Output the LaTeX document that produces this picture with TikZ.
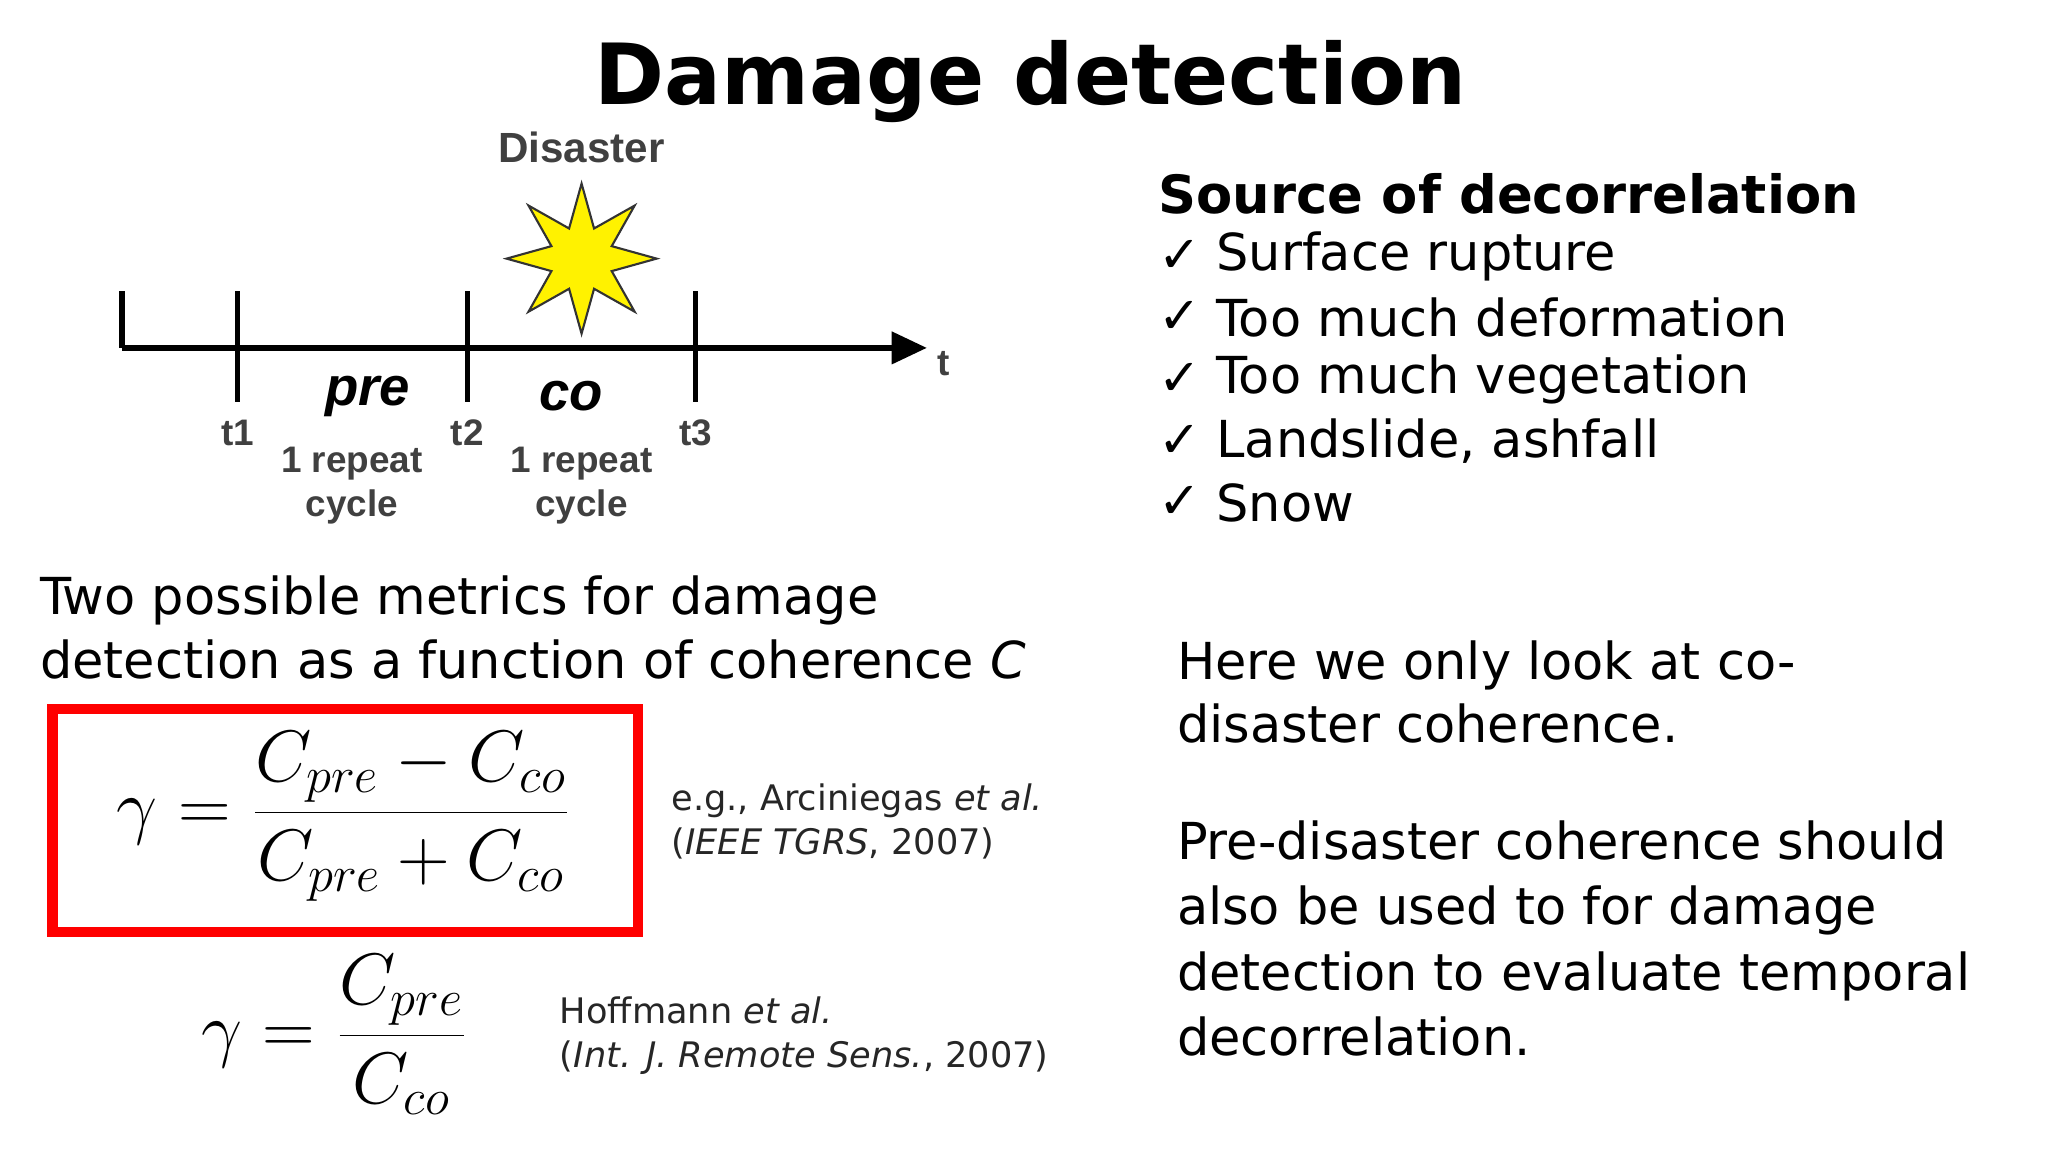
\documentclass[tikz,border=0pt]{standalone}
\usepackage{fontspec}
\setmainfont{DejaVu Sans}
\newfontfamily\arialf{Liberation Sans}
\usetikzlibrary{arrows.meta,shapes.geometric}
\tikzset{
  tick/.style={line width=1.5pt},
  tl/.style={font=\arialf\fontsize{10.5}{12.5}\selectfont\bfseries, text=black!75},
  body/.style={anchor=west, font=\fontsize{14.5}{18}\selectfont, inner sep=0pt},
  cite/.style={anchor=west, font=\fontsize{10}{12.5}\selectfont, inner sep=0pt, text=black!85},
}
\begin{document}
\begin{tikzpicture}[x=0.01313cm,y=-0.01313cm]
\useasboundingbox (0,0) rectangle (1560,877);
\node[font=\fontsize{24}{30}\selectfont\bfseries] (title) at (785,62) {Damage detection};
% timeline
\coordinate (L) at (93,265); \coordinate (R) at (706,265);
\draw[tick,-{Triangle[length=10pt,width=9pt]}] (L) -- (R);
\draw[tick] (93,222) -- (L);
\foreach \x/\n in {181/1,356/2,530/3}{
  \draw[tick] (\x,222) -- (\x,306);
  \node[tl] (t\n) at (\x,330) {t\n};
}
\node[tl] (tt) at (719,277) {t};
\node[font=\arialf\fontsize{15.5}{18}\selectfont\bfseries\itshape] (pre) at (280,302) {pre};
\node[font=\arialf\fontsize{15.5}{18}\selectfont\bfseries\itshape] (co) at (435,302) {co};
\node[tl,align=center] (c1) at (268,370) {1 repeat\\cycle};
\node[tl,align=center] (c2) at (443,370) {1 repeat\\cycle};
\node[tl,font=\arialf\fontsize{12}{14}\selectfont\bfseries] (dis) at (443,112) {Disaster};
\node[star,star points=8,star point ratio=2.3,draw=black!80,line width=0.6pt,fill=yellow,minimum size=1.5cm,inner sep=0pt] (star) at (443,197) {};
% right list
\node[anchor=west,inner sep=0pt,font=\fontsize{15}{18}\selectfont\bfseries] (src) at (882,148) {Source of decorrelation};
\foreach \y/\t [count=\i] in {195/Surface rupture,242/Too much deformation,289/Too much vegetation,336/{Landslide, ashfall},383/Snow}{
  \node[body] (ck\i) at (882,\y) {✓};
  \node[body] (it\i) at (926,\y) {\t};
}
\node[body,align=left] (two) at (30,478) {Two possible metrics for damage\\detection as a function of coherence \textit{C}};
\draw[red,line width=3pt] (40,540) rectangle (486,710);
\node[font=\fontsize{22.5}{28}\selectfont] (f1) at (262,622) {$\displaystyle \gamma=\frac{C_{pre}-C_{co}}{C_{pre}+C_{co}}$};
\node[cite,align=left] (ci1) at (511,626) {e.g., Arciniegas \textit{et al.}\\(\textit{IEEE TGRS}, 2007)};
\node[font=\fontsize{22.5}{28}\selectfont] (f2) at (255,788) {$\displaystyle \gamma=\frac{C_{pre}}{C_{co}}$};
\node[cite,align=left] (ci2) at (426,789) {Hoffmann \textit{et al.}\\(\textit{Int. J. Remote Sens.}, 2007)};
\node[body,align=left] (h1) at (896,527) {Here we only look at co-\\disaster coherence.};
\node[body,align=left,font=\fontsize{14.5}{18.6}\selectfont] (h2) at (896,715) {Pre-disaster coherence should\\also be used to for damage\\detection to evaluate temporal\\decorrelation.};
\end{tikzpicture}
\end{document}
